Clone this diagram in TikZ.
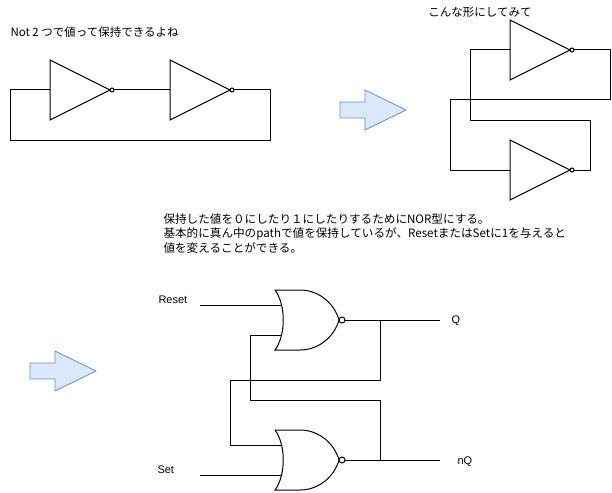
\documentclass[tikz,border=0pt]{standalone}
\usepackage{fontspec}
\setmainfont{Liberation Sans}
\newfontfamily\jpfont{Noto Sans CJK JP}
\usepackage{tikz}
\definecolor{arrowfill}{HTML}{DAE8FC}
\definecolor{arrowline}{HTML}{6C8EBF}

\begin{document}
\begin{tikzpicture}[x=1pt,y=-1pt,line width=1pt]

\useasboundingbox (0,0) rectangle (612,492);

\node[anchor=west,font=\jpfont\fontsize{11.5}{14}\selectfont,inner sep=0] (title1) at (10,32) {Not 2 つで値って保持できるよね};
\node[font=\jpfont\fontsize{11.5}{14}\selectfont,inner sep=0] (title2) at (480,12) {こんな形にしてみて};
\node[anchor=north west,align=left,font=\jpfont\fontsize{11.6}{14.5}\selectfont,inner sep=0] (note) at (163,213) {保持した値を０にしたり１にしたりするためにNOR型にする。\\基本的に真ん中のpathで値を保持しているが、ResetまたはSetに1を与えると\\値を変えることができる。};

\draw (50,60) -- (110,90) -- (50,120) -- cycle;
\draw (112,90) circle (2);
\coordinate (notAin) at (50,90);
\coordinate (notAout) at (114,90);

\draw (170,60) -- (230,90) -- (170,120) -- cycle;
\draw (232,90) circle (2);
\coordinate (notBin) at (170,90);
\coordinate (notBout) at (234,90);

\draw (notAout) -- (notBin);
\draw (notBout) -- (270,90) -- (270,140) -- (10,140) -- (10,90) -- (notAin);

\draw (510,20) -- (570,50) -- (510,80) -- cycle;
\draw (572,50) circle (2);
\coordinate (notCin) at (510,50);
\coordinate (notCout) at (574,50);

\draw (510,140) -- (570,170) -- (510,200) -- cycle;
\draw (572,170) circle (2);
\coordinate (notDin) at (510,170);
\coordinate (notDout) at (574,170);

\draw (notCout) -- (610,50) -- (610,100) -- (450,100) -- (450,170) -- (notDin);
\draw (notCin) -- (470,50) -- (470,120) -- (590,120) -- (590,170) -- (notDout);

\draw [fill=arrowfill, draw=arrowline, line width=0.8pt] (340,102) -- (365,102) -- (365,90) -- (406,110) -- (365,130) -- (365,118) -- (340,118) -- cycle;
\draw [fill=arrowfill, draw=arrowline, line width=0.8pt] (30,363) -- (55,363) -- (55,351) -- (96,371) -- (55,391) -- (55,379) -- (30,379) -- cycle;

\draw (275,290) -- (300,290) .. controls (320,290) and (335,305) .. (339,320) .. controls (335,335) and (320,350) .. (300,350) -- (275,350) .. controls (286,335) and (286,305) .. (275,290);
\draw (342,320) circle (3);
\coordinate (norAin1) at (281,305);
\coordinate (norAin2) at (281,335);
\coordinate (norAout) at (345,320);

\draw (275,430) -- (300,430) .. controls (320,430) and (335,445) .. (339,460) .. controls (335,475) and (320,490) .. (300,490) -- (275,490) .. controls (286,475) and (286,445) .. (275,430);
\draw (342,460) circle (3);
\coordinate (norBin1) at (281,445);
\coordinate (norBin2) at (281,475);
\coordinate (norBout) at (345,460);

\node[anchor=west,font=\fontsize{11}{13}\selectfont,inner sep=0] (reset) at (158,300) {Reset};
\node[anchor=west,font=\fontsize{11}{13}\selectfont,inner sep=0] (set) at (157,470) {Set};
\node[anchor=west,font=\fontsize{11}{13}\selectfont,inner sep=0] (q) at (451,321) {Q};
\node[anchor=west,font=\fontsize{11}{13}\selectfont,inner sep=0] (nq) at (457,462) {nQ};

\coordinate (resetend) at (200,305);
\coordinate (setend) at (200,475);
\coordinate (qend) at (440,320);
\coordinate (nqend) at (440,460);

\draw (resetend) -- (norAin1);
\draw (setend) -- (norBin2);
\draw (norAout) -- (qend);
\draw (norBout) -- (nqend);

\draw (380,320) -- (380,380) -- (230,380) -- (230,445) -- (norBin1);
\draw (norAin2) -- (250,335) -- (250,400) -- (380,400) -- (380,460);

\end{tikzpicture}
\end{document}
